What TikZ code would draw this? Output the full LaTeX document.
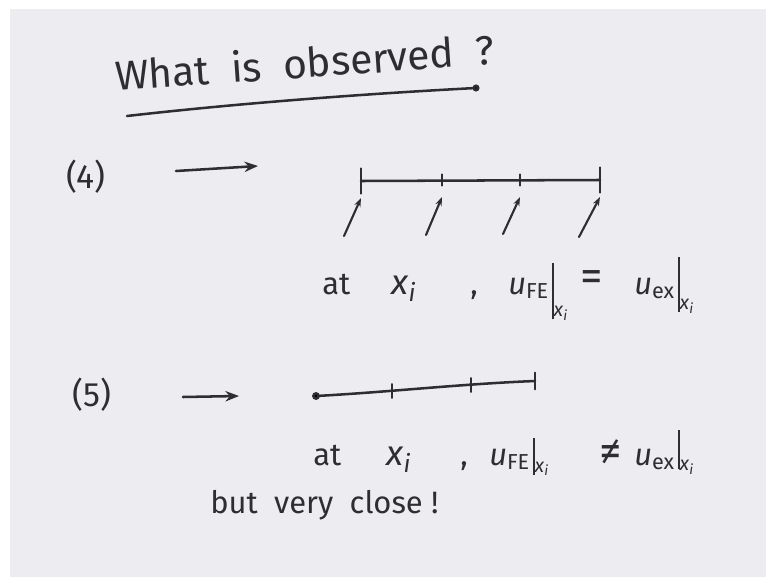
\documentclass[tikz,border=0pt]{standalone}
\usepackage{fontspec}
\setmainfont{Fira Sans}
\usetikzlibrary{arrows.meta}

\definecolor{board}{HTML}{EDEDF1}
\definecolor{ink}{HTML}{2E2E30}

% handwritten-style evaluation bar: value, bar depth, bar height, subscript drop
\newcommand{\xsub}{\textit{x}\textsubscript{\textit{i}}}
\newcommand{\evalbar}[4]{#1\hspace{2pt}\rule[-#2]{1.3pt}{#3}\raisebox{-#4}{\fontsize{14}{14}\selectfont\xsub}}

\begin{document}
\begin{tikzpicture}[
  x=0.025cm, y=-0.025cm,
  >={Stealth[length=3.4mm,width=2.6mm]},
  ink/.style={draw=ink, line width=1.8pt, line cap=round},
  arr/.style={ink, ->},
  uparr/.style={ink, line width=1.5pt, -{Stealth[length=2.2mm,width=1.6mm]}},
  tick/.style={ink, line width=1.3pt},
  txt/.style={text=ink, inner sep=0pt, anchor=base west, font=\fontsize{22}{26}\selectfont},
  rel/.style={text=ink, inner sep=0pt, anchor=center, font=\fontsize{32}{34}\selectfont},
  lbl/.style={text=ink, inner sep=0pt, anchor=west, font=\fontsize{24}{28}\selectfont}
]

% Board and margins
\fill[white] (0,0) rectangle (766,577);
\fill[board] (10,9) rectangle (766,577);
\useasboundingbox (0,0) rectangle (766,577);

% Title
\node[text=ink, inner sep=0pt, anchor=base west, rotate=4,
      font=\fontsize{29}{32}\selectfont] (title) at (116,91)
  {What\ \ is\ \ observed\ \ ?};
\coordinate (ul1) at (127,116);
\coordinate (ul2) at (476,88);
\draw[ink] (ul1) .. controls (250,102) and (380,93) .. (ul2);
\fill[ink] (ul2) circle (2.2);

% Case (4)
\node[lbl] (c4) at (66,177) {(4)};
\coordinate (a4s) at (176,171);
\coordinate (a4e) at (258,166);
\draw[arr] (a4s) -- (a4e);

\coordinate (n1) at (361,181);
\coordinate (n2) at (442,180);
\coordinate (n3) at (520,180);
\coordinate (n4) at (600,180);
\draw[ink] (n1) -- (n4);
\draw[tick] ([yshift=-9]n1) -- ([yshift=9]n1);
\draw[tick] ([yshift=-9]n4) -- ([yshift=9]n4);
\foreach \n in {n2,n3}
  \draw[tick] ([yshift=-4]\n) -- ([yshift=4]\n);

% Nodal arrows
\coordinate (b1) at (344,236);
\coordinate (b2) at (426,235);
\coordinate (b3) at (503,234);
\coordinate (b4) at (579,237);
\foreach \i in {1,2,3,4}
  \draw[uparr] (b\i) -- ([shift={(0,17)}]n\i);

% Statement (4)
\node[txt] (at4) at (322,294) {at};
\node[txt, font=\fontsize{25}{28}\selectfont] (x4) at (391,294) {\xsub};
\node[txt] (cm4) at (470,294) {,};
\node[txt] (lhs4) at (508,294) {\evalbar{\textit{u}\textsubscript{FE}}{18pt}{40pt}{16pt}};
\node[rel] (eq4) at (592,281) {=};
\node[txt] (rhs4) at (634,294) {\evalbar{\textit{u}\textsubscript{ex}}{13pt}{39pt}{11pt}};

% Case (5)
\node[lbl] (c5) at (72,395) {(5)};
\coordinate (a5s) at (183,397);
\coordinate (a5e) at (239,396);
\draw[arr] (a5s) -- (a5e);

\coordinate (m1) at (316,396);
\coordinate (m2) at (392,391);
\coordinate (m3) at (471,385);
\coordinate (m4) at (535,381);
\draw[ink] (m1) .. controls (390,392) and (460,384) .. (m4);
\fill[ink] (m1) circle (2.6);
\draw[tick] ([yshift=-6]m4) -- ([yshift=6]m4);
\foreach \n in {m2,m3}
  \draw[tick] ([yshift=-5]\n) -- ([yshift=5]\n);

% Statement (5)
\node[txt] (at5) at (313,465) {at};
\node[txt, font=\fontsize{25}{28}\selectfont] (x5) at (386,465) {\xsub};
\node[txt] (cm5) at (460,465) {,};
\node[txt] (lhs5) at (489,465) {\evalbar{\textit{u}\textsubscript{FE}}{7pt}{26pt}{5pt}};
\node[rel] (ne5) at (611,453) {≠};
\node[txt] (rhs5) at (634,465) {\evalbar{\textit{u}\textsubscript{ex}}{3pt}{28pt}{4pt}};

\node[txt] (close) at (210,513) {but\ \ very\ \ close\ !};

\end{tikzpicture}
\end{document}
